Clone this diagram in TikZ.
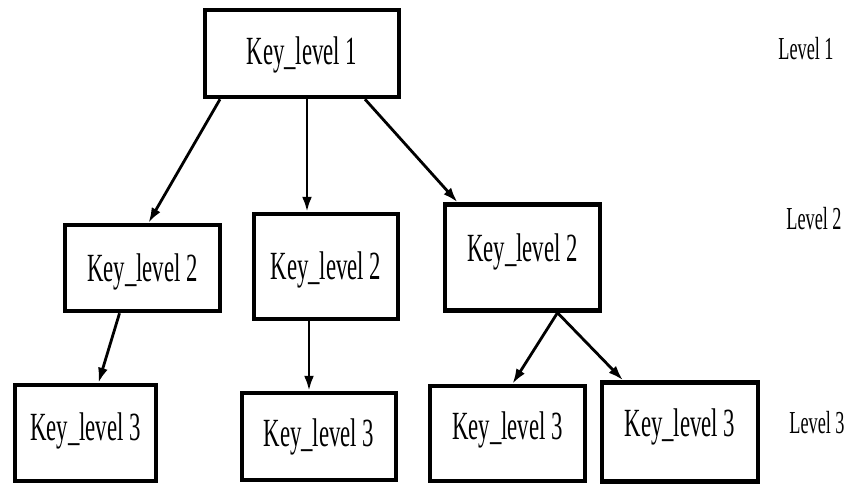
\documentclass[tikz,border=0pt]{standalone}
\usepackage{fontspec}
\setmainfont[FakeStretch=0.57]{Liberation Serif}
\usetikzlibrary{arrows.meta}

\begin{document}
\begin{tikzpicture}[x=1pt, y=-1pt,
  keybox/.style 2 args={draw, line width=4.5pt, minimum width=#1, minimum height=#2,
    inner sep=0pt, text height=26pt, text depth=0pt, font=\fontsize{40}{44}\selectfont},
  lvl/.style={font=\fontsize{32}{36}\selectfont},
  arr/.style={-{Latex[length=15pt,width=10pt]}, line width=2.8pt}]
  \useasboundingbox (0,0) rectangle (849,485);

  % Keys of the three levels
  \node[keybox={194pt}{87pt}, text depth=5pt] (k1) at (302,53.5) {Key\_level 1};

  \node[keybox={155pt}{86pt}] (k2a) at (142.5,268) {Key\_level 2};
  \node[keybox={144pt}{105pt}] (k2b) at (326,266.5) {Key\_level 2};
  \node[keybox={155pt}{106pt}, text depth=19pt] (k2c) at (522.5,257.5) {Key\_level 2};

  \node[keybox={141pt}{96pt}, text depth=12pt] (k3a) at (85.5,433) {Key\_level 3};
  \node[keybox={154pt}{87pt}, text depth=6pt] (k3b) at (319,436.5) {Key\_level 3};
  \node[keybox={155pt}{95pt}, text depth=14pt] (k3c) at (507.5,433.5) {Key\_level 3};
  \node[keybox={156pt}{99pt}, text depth=17pt] (k3d) at (680,432) {Key\_level 3};

  % Level names
  \node[lvl] (lv1) at (806,48.5) {Level 1};
  \node[lvl] (lv2) at (814,219) {Level 2};
  \node[lvl] (lv3) at (817,423) {Level 3};

  % Arrows
  \draw[arr] ([xshift=-82pt]k1.south) -- ([xshift=6pt]k2a.north);
  \draw[arr] ([xshift=5pt]k1.south) -- ([xshift=-19pt]k2b.north);
  \draw[arr] ([xshift=63pt]k1.south) -- ([xshift=-65pt]k2c.north);
  \draw[arr] ([xshift=-23pt]k2a.south) -- ([xshift=13pt]k3a.north);
  \draw[arr] ([xshift=-17pt]k2b.south) -- ([xshift=-10pt]k3b.north);
  \draw[arr] ([xshift=35pt]k2c.south) -- ([xshift=5pt]k3c.north);
  \draw[arr] ([xshift=35pt]k2c.south) -- ([xshift=-57pt]k3d.north);
\end{tikzpicture}
\end{document}
